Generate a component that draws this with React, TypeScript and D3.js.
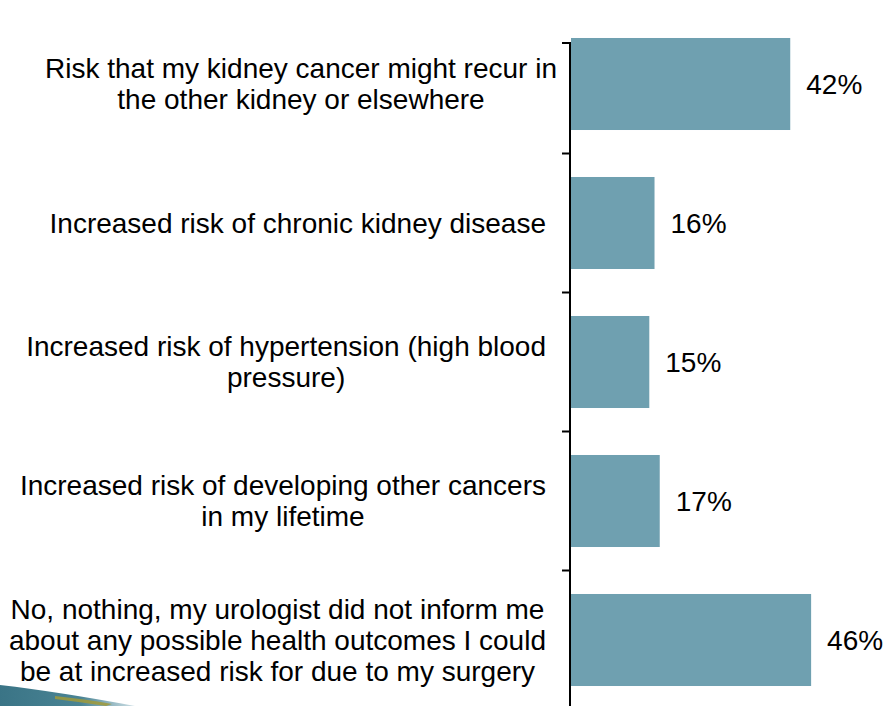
import React, { useLayoutEffect, useRef } from "react";
import * as d3 from "d3";

const categories: string[][] = [
  ["Risk that my kidney cancer might recur in", "the other kidney or elsewhere"],
  ["Increased risk of chronic kidney disease"],
  ["Increased risk of hypertension (high blood", "pressure)"],
  ["Increased risk of developing other cancers", "in my lifetime"],
  [
    "No, nothing, my urologist did not inform me",
    "about any possible health outcomes I could",
    "be at increased risk for due to my surgery",
  ],
];
const values: number[] = [42, 16, 15, 17, 46];
const valueLabels: string[] = ["42%", "16%", "15%", "17%", "46%"];

const W = 887;
const H = 706;
const AXIS_X = 571;
const FONT = "'Liberation Sans', Arial, sans-serif";
const FS = 28;
const LINE_H = 31;
const LABEL_RIGHT = 546;
// first label's text box sits a little further right in the original
const LABEL_SHIFT = [11, 0, 0, 0, 0];

export default function App() {
  const labelsRef = useRef<SVGGElement | null>(null);
  const keys = categories.map((_, i) => String(i));
  const y = d3
    .scaleBand<string>()
    .domain(keys)
    .range([14.5, 709.5])
    .paddingInner(0.338)
    .paddingOuter(0.169);
  const x = d3.scaleLinear().domain([0, 100]).range([AXIS_X, AXIS_X + 522]);

  const boundaries = keys.slice(1).map((k) => (y(k) as number) - (y.step() * 0.338) / 2);
  const tickYs = [43, ...boundaries];

  useLayoutEffect(() => {
    const g = labelsRef.current;
    if (!g) return;
    d3.select(g)
      .selectAll<SVGGElement, unknown>("g.lbl")
      .each(function (_, i) {
        const texts = d3.select(this).selectAll<SVGTextElement, unknown>("text").nodes();
        const maxW = d3.max(texts, (t) => t.getComputedTextLength()) || 0;
        const cx = LABEL_RIGHT + LABEL_SHIFT[i] - maxW / 2;
        texts.forEach((t) => t.setAttribute("x", String(cx)));
      });
  }, []);

  return (
    <svg
      width={W}
      height={H}
      style={{ position: "absolute", left: 0, top: 0, background: "#fff" }}
      fontFamily={FONT}
    >
      <defs>
        <linearGradient id="swoosh" x1="0" y1="0" x2="1" y2="0">
          <stop offset="0" stopColor="#3a7486" />
          <stop offset="0.6" stopColor="#4a8494" />
          <stop offset="1" stopColor="#cfe0e6" />
        </linearGradient>
      </defs>
      {/* decorative swoosh bottom-left */}
      <path d="M0,685 Q60,692 135,706 L0,706 Z" fill="url(#swoosh)" />
      <path d="M55,696 Q85,699 112,704 L106,706 Q80,702 55,699 Z" fill="#a09a3a" opacity={0.85} />

      {/* bars */}
      {values.map((v, i) => (
        <rect
          key={i}
          x={x(0)}
          y={y(keys[i])}
          width={x(v) - x(0)}
          height={y.bandwidth()}
          fill="#6fa0b0"
        />
      ))}

      {/* value labels */}
      {values.map((v, i) => (
        <text
          key={i}
          x={x(v) + 16}
          y={(y(keys[i]) as number) + y.bandwidth() / 2}
          dy="0.35em"
          fontSize={FS}
          fill="#000"
        >
          {valueLabels[i]}
        </text>
      ))}

      {/* axis */}
      <line x1={AXIS_X - 1} x2={AXIS_X - 1} y1={42} y2={H} stroke="#000" strokeWidth={2} />
      {tickYs.map((ty, i) => (
        <line key={i} x1={AXIS_X - 9} x2={AXIS_X - 1} y1={ty} y2={ty} stroke="#000" strokeWidth={2} />
      ))}

      {/* category labels */}
      <g ref={labelsRef}>
        {categories.map((lines, i) => {
          const cy = (y(keys[i]) as number) + y.bandwidth() / 2;
          const y0 = cy - ((lines.length - 1) * LINE_H) / 2;
          return (
            <g className="lbl" key={i}>
              {lines.map((ln, j) => (
                <text
                  key={j}
                  x={LABEL_RIGHT}
                  y={y0 + j * LINE_H}
                  dy="0.35em"
                  textAnchor="middle"
                  fontSize={FS}
                  fill="#000"
                >
                  {ln}
                </text>
              ))}
            </g>
          );
        })}
      </g>
    </svg>
  );
}
